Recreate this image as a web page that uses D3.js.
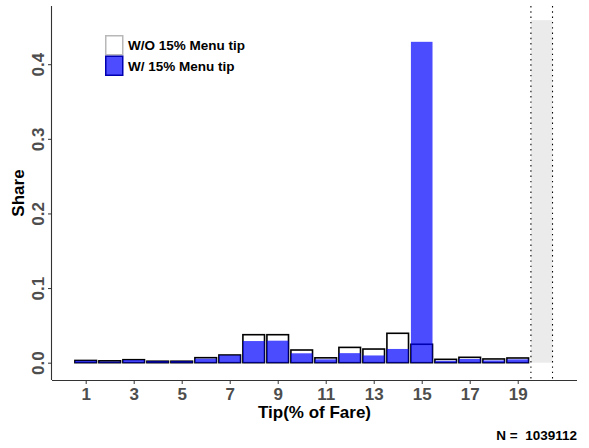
<!DOCTYPE html>
<html>
<head>
<meta charset="utf-8">
<script src="https://cdn.jsdelivr.net/npm/d3@7"></script>
<style>
  html, body { margin: 0; padding: 0; background: #fff; }
  svg { display: block; font-family: "Liberation Sans", Arial, sans-serif; }
</style>
</head>
<body>
<svg id="chart" width="589" height="448"></svg>
<script>
// Tip share by tip percentage, with and without a 15% menu tip option
const tips = [1, 2, 3, 4, 5, 6, 7, 8, 9, 10, 11, 12, 13, 14, 15, 16, 17, 18, 19];
const shareWithout = [0.003, 0.0025, 0.004, 0.002, 0.002, 0.0067, 0.0103, 0.0375, 0.0375, 0.017,
                      0.0065, 0.0205, 0.0183, 0.0394, 0.0247, 0.0045, 0.0072, 0.005, 0.0063];
const shareWith = [0.0025, 0.0015, 0.0035, 0.002, 0.002, 0.0053, 0.0097, 0.029, 0.0295, 0.0126,
                   0.0045, 0.0128, 0.0097, 0.0184, 0.43, 0.0025, 0.005, 0.003, 0.0045];
const shadedTip = [20];
const shadedShare = [0.459];
const xTicks = [1, 3, 5, 7, 9, 11, 13, 15, 17, 19];
const yTicks = [0, 0.1, 0.2, 0.3, 0.4];
const seriesLabels = ["W/O 15% Menu tip", "W/ 15% Menu tip"];
const sampleSize = 1039112;

const svg = d3.select("#chart");
const plotLeft = 52, plotRight = 577, plotTop = 6, plotBottom = 380;
const barWidth = 0.9;

const x = d3.scaleLinear().domain([-0.404, 21.47]).range([plotLeft, plotRight]);
const y = d3.scaleLinear().domain([-0.0232, 0.478]).range([plotBottom, plotTop]);

const rows = tips.map((t, i) => ({ tip: t, wo: shareWithout[i], w: shareWith[i] }));

// shaded reference column with dotted edges
const shade = svg.append("g");
shadedTip.forEach((t, i) => {
  shade.append("rect")
    .attr("x", x(t - barWidth / 2)).attr("width", x(t + barWidth / 2) - x(t - barWidth / 2))
    .attr("y", y(shadedShare[i])).attr("height", y(0) - y(shadedShare[i]))
    .attr("fill", "#ebebeb");
  [t - barWidth / 2, t + barWidth / 2].forEach(v => {
    shade.append("line")
      .attr("x1", x(v)).attr("x2", x(v)).attr("y1", plotTop).attr("y2", plotBottom)
      .attr("stroke", "#000").attr("stroke-width", 1.1)
      .attr("stroke-dasharray", "1.4,3.9");
  });
});

// bars without the menu tip option
svg.append("g").selectAll("rect").data(rows).join("rect")
  .attr("x", d => x(d.tip - barWidth / 2))
  .attr("width", d => x(d.tip + barWidth / 2) - x(d.tip - barWidth / 2))
  .attr("y", d => y(d.wo))
  .attr("height", d => y(0) - y(d.wo))
  .attr("fill", "#fff").attr("stroke", "#000").attr("stroke-width", 1.6);

// bars with the menu tip option (translucent blue)
svg.append("g").selectAll("rect").data(rows).join("rect")
  .attr("x", d => x(d.tip - barWidth / 2))
  .attr("width", d => x(d.tip + barWidth / 2) - x(d.tip - barWidth / 2))
  .attr("y", d => y(d.w))
  .attr("height", d => y(0) - y(d.w))
  .attr("fill", "#0000ff").attr("fill-opacity", 0.7);

// axes
const xAxis = svg.append("g").attr("transform", `translate(0,${plotBottom})`)
  .call(d3.axisBottom(x).tickValues(xTicks).tickSize(4).tickPadding(4).tickFormat(d3.format("d")));
xAxis.select(".domain").attr("d", `M${plotLeft},0.5H${plotRight}`).attr("stroke", "#333").attr("stroke-width", 1.1);
xAxis.selectAll(".tick line").attr("stroke", "#333");
xAxis.selectAll(".tick text").attr("fill", "#4d4d4d").attr("font-size", 17).attr("font-weight", "bold")
  .attr("font-family", "Liberation Sans, Arial, sans-serif");

const yAxis = svg.append("g").attr("transform", `translate(${plotLeft},0)`)
  .call(d3.axisLeft(y).tickValues(yTicks).tickSize(4).tickFormat(d3.format(".1f")));
yAxis.select(".domain").attr("d", `M-0.5,${plotTop}V${plotBottom}`).attr("stroke", "#333").attr("stroke-width", 1.1);
yAxis.selectAll(".tick line").attr("stroke", "#333");
yAxis.selectAll(".tick text")
  .attr("fill", "#4d4d4d").attr("font-size", 17).attr("font-weight", "bold")
  .attr("font-family", "Liberation Sans, Arial, sans-serif")
  .attr("text-anchor", "middle").attr("dy", null)
  .attr("x", null)
  .attr("transform", "translate(-8,0) rotate(-90)");

// axis titles
svg.append("text").attr("x", (plotLeft + plotRight) / 2).attr("y", 418)
  .attr("text-anchor", "middle").attr("font-size", 17).attr("font-weight", "bold")
  .text("Tip(% of Fare)");
svg.append("text").attr("transform", `translate(24,${(plotTop + plotBottom) / 2}) rotate(-90)`)
  .attr("text-anchor", "middle").attr("font-size", 17).attr("font-weight", "bold")
  .text("Share");

// sample size note
svg.append("text").attr("x", 577).attr("y", 439.5)
  .attr("text-anchor", "end").attr("font-size", 13.5).attr("font-weight", "bold")
  .style("white-space", "pre")
  .text("N =  " + sampleSize);

// legend
const legend = svg.append("g").attr("transform", "translate(105,35)");
const keyStyles = [
  { fill: "#fff", stroke: "#b8b8b8" },
  { fill: "#4d4dff", stroke: "#0000b0" }
];
seriesLabels.forEach((lab, i) => {
  const g = legend.append("g").attr("transform", `translate(0,${i * 20.5})`);
  g.append("rect").attr("x", 0.75).attr("y", 0.75).attr("width", 17).attr("height", 19)
    .attr("fill", keyStyles[i].fill).attr("stroke", keyStyles[i].stroke).attr("stroke-width", 1.5);
  g.append("text").attr("x", 23).attr("y", 15).attr("font-size", 13.5).attr("font-weight", "bold")
    .text(lab);
});
</script>
</body>
</html>
